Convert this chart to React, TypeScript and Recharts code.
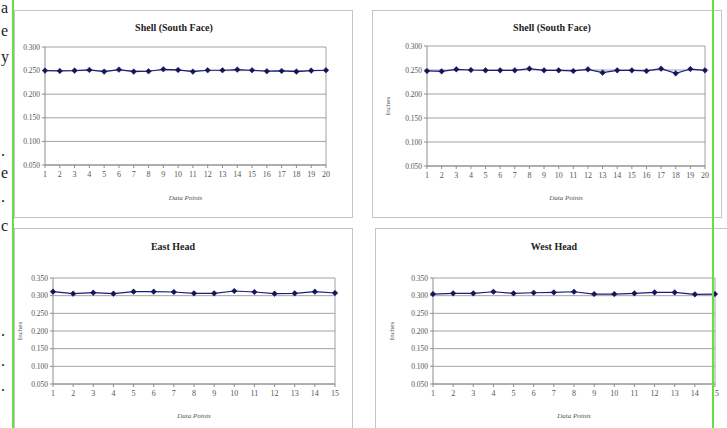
import React from "react";
import {
  LineChart,
  Line,
  XAxis,
  YAxis,
  CartesianGrid,
  ReferenceLine,
} from "recharts";

// Shell (south face) readings, 20 data points
const SHELL_POINTS = ["1","2","3","4","5","6","7","8","9","10","11","12","13","14","15","16","17","18","19","20"];
const SHELL_A = [0.25, 0.2493, 0.25, 0.2514, 0.2479, 0.2521, 0.2479, 0.2486, 0.2528, 0.2514, 0.2479, 0.2507, 0.2507, 0.2521, 0.2507, 0.2486, 0.2493, 0.2479, 0.25, 0.2507];
const SHELL_B = [0.248, 0.2472, 0.2514, 0.25, 0.2493, 0.2493, 0.2493, 0.2528, 0.2493, 0.2493, 0.248, 0.2514, 0.2445, 0.2493, 0.2493, 0.248, 0.2528, 0.243, 0.252, 0.2493];

// Heads, 15 data points each
const HEAD_POINTS = ["1","2","3","4","5","6","7","8","9","10","11","12","13","14","15"];
const EAST_HEAD = [0.3113, 0.3057, 0.3085, 0.3057, 0.3113, 0.3113, 0.3104, 0.3066, 0.3066, 0.3132, 0.3104, 0.3057, 0.3066, 0.3113, 0.3075];
const WEST_HEAD = [0.3046, 0.3065, 0.3065, 0.3111, 0.3065, 0.3083, 0.3093, 0.3111, 0.3046, 0.3046, 0.3065, 0.3093, 0.3093, 0.3037, 0.3046];

const SHELL_TICKS = [0.05, 0.1, 0.15, 0.2, 0.25, 0.3];
const HEAD_TICKS = [0.05, 0.1, 0.15, 0.2, 0.25, 0.3, 0.35];

const FONT = '"Liberation Serif", "DejaVu Serif", serif';
const GRID = "#8c8c8c";
const LINE = "#1c1c80";

// bits of the body text that is cut off at the left edge of the scan
const PAGE_MARKS = [
  { ch: "a", y: -1 }, { ch: "e", y: 22 }, { ch: "y", y: 48 },
  { ch: ".", y: 142 }, { ch: "e", y: 164 }, { ch: ".", y: 188 },
  { ch: "c", y: 217 }, { ch: ".", y: 322 }, { ch: ".", y: 352 }, { ch: ".", y: 377 },
];

type Box = { left: number; top: number; width: number; height: number };
type Plot = { left: number; top: number; right: number; bottom: number };

interface PanelProps {
  title: string;
  titleX: number;
  titleY: number;
  box: Box;
  plot: Plot;
  categories: string[];
  values: number[];
  ticks: number[];
  xTitleY: number;
  yLabelOffset?: number;
}

function Diamond(props: any) {
  const { cx, cy } = props;
  if (cx == null || cy == null) return null;
  return (
    <path
      d={`M${cx},${cy - 2.8}L${cx + 2.8},${cy}L${cx},${cy + 2.8}L${cx - 2.8},${cy}Z`}
      fill="#14145a"
      stroke="#14145a"
      strokeWidth={0.5}
    />
  );
}

function Panel({ title, titleX, titleY, box, plot, categories, values, ticks, xTitleY, yLabelOffset }: PanelProps) {
  const data = categories.map((c, i) => ({ point: c, value: values[i] }));
  const innerLeft = box.left + 1;
  const innerTop = box.top + 1;
  const w = box.width - 2;
  const h = box.height - 2;
  const yAxisW = plot.left - innerLeft;
  const marginTop = plot.top - innerTop;
  const marginRight = innerLeft + w - plot.right;
  const xAxisH = innerTop + h - plot.bottom;
  const xTitleOffset = innerTop + h - (xTitleY + 3);

  return (
    <>
      <div
        style={{
          position: "absolute",
          left: box.left,
          top: box.top,
          width: w,
          height: h,
          border: "1px solid #c4c4c4",
          background: "#fff",
        }}
      >
        <LineChart
          width={w}
          height={h}
          data={data}
          margin={{ top: marginTop, right: marginRight, bottom: 0, left: 0 }}
        >
          <CartesianGrid vertical={false} stroke={GRID} strokeWidth={0.8} />
          <XAxis
            dataKey="point"
            height={xAxisH}
            interval={0}
            tickSize={3}
            tickMargin={3}
            stroke={GRID}
            tick={{ fontSize: 8, fill: "#555", fontFamily: FONT }}
            label={{
              value: "Data Points",
              position: "insideBottom",
              offset: xTitleOffset,
              style: { fontSize: 7, fill: "#555", fontStyle: "italic", fontFamily: FONT },
            }}
          />
          <YAxis
            width={yAxisW}
            domain={[ticks[0], ticks[ticks.length - 1]]}
            ticks={ticks}
            interval={0}
            tickSize={3}
            tickMargin={2}
            stroke={GRID}
            tickFormatter={(v: number) => v.toFixed(3)}
            tick={{ fontSize: 7.5, fill: "#555", fontFamily: FONT }}
            label={
              yLabelOffset === undefined
                ? undefined
                : {
                    value: "Inches",
                    angle: -90,
                    position: "insideLeft",
                    offset: yLabelOffset,
                    style: { textAnchor: "middle", fontSize: 7, fill: "#555", fontFamily: FONT },
                  }
            }
          />
          <ReferenceLine x={categories[categories.length - 1]} stroke={GRID} strokeWidth={0.8} />
          <Line
            type="linear"
            dataKey="value"
            stroke={LINE}
            strokeWidth={1.2}
            dot={<Diamond />}
            isAnimationActive={false}
          />
        </LineChart>
      </div>
      <div
        style={{
          position: "absolute",
          left: titleX - 100,
          width: 200,
          top: titleY - 7,
          textAlign: "center",
          fontFamily: FONT,
          fontWeight: "bold",
          fontSize: 10,
          color: "#222",
        }}
      >
        {title}
      </div>
    </>
  );
}

export default function App() {
  return (
    <div
      style={{
        position: "absolute",
        left: 0,
        top: 0,
        width: 727,
        height: 428,
        overflow: "hidden",
        background: "#fff",
        fontFamily: FONT,
      }}
    >
      {PAGE_MARKS.map((m, i) => (
        <div
          key={i}
          style={{ position: "absolute", left: 1, top: m.y, fontSize: 16, lineHeight: "18px", color: "#222", fontFamily: FONT }}
        >
          {m.ch}
        </div>
      ))}

      <Panel
        title="Shell (South Face)"
        titleX={174}
        titleY={29}
        box={{ left: 14, top: 10, width: 339, height: 208 }}
        plot={{ left: 45, top: 47, right: 326, bottom: 165 }}
        categories={SHELL_POINTS}
        values={SHELL_A}
        ticks={SHELL_TICKS}
        xTitleY={197}
      />
      <Panel
        title="Shell (South Face)"
        titleX={552}
        titleY={29}
        box={{ left: 372, top: 10, width: 350, height: 208 }}
        plot={{ left: 427, top: 46, right: 705, bottom: 166 }}
        categories={SHELL_POINTS}
        values={SHELL_B}
        ticks={SHELL_TICKS}
        xTitleY={197}
        yLabelOffset={15}
      />
      <Panel
        title="East Head"
        titleX={173}
        titleY={248}
        box={{ left: 14, top: 228, width: 339, height: 212 }}
        plot={{ left: 53, top: 278, right: 335, bottom: 384 }}
        categories={HEAD_POINTS}
        values={EAST_HEAD}
        ticks={HEAD_TICKS}
        xTitleY={415}
        yLabelOffset={5}
      />
      <Panel
        title="West Head"
        titleX={554}
        titleY={248}
        box={{ left: 375, top: 228, width: 362, height: 212 }}
        plot={{ left: 433, top: 278, right: 715, bottom: 384 }}
        categories={HEAD_POINTS}
        values={WEST_HEAD}
        ticks={HEAD_TICKS}
        xTitleY={415}
        yLabelOffset={16}
      />

      {/* green guide lines from the scan */}
      <div style={{ position: "absolute", left: 12, top: 0, width: 2, height: 428, background: "#66e040" }} />
      <div style={{ position: "absolute", left: 712, top: 0, width: 2, height: 428, background: "#66e040" }} />
    </div>
  );
}
